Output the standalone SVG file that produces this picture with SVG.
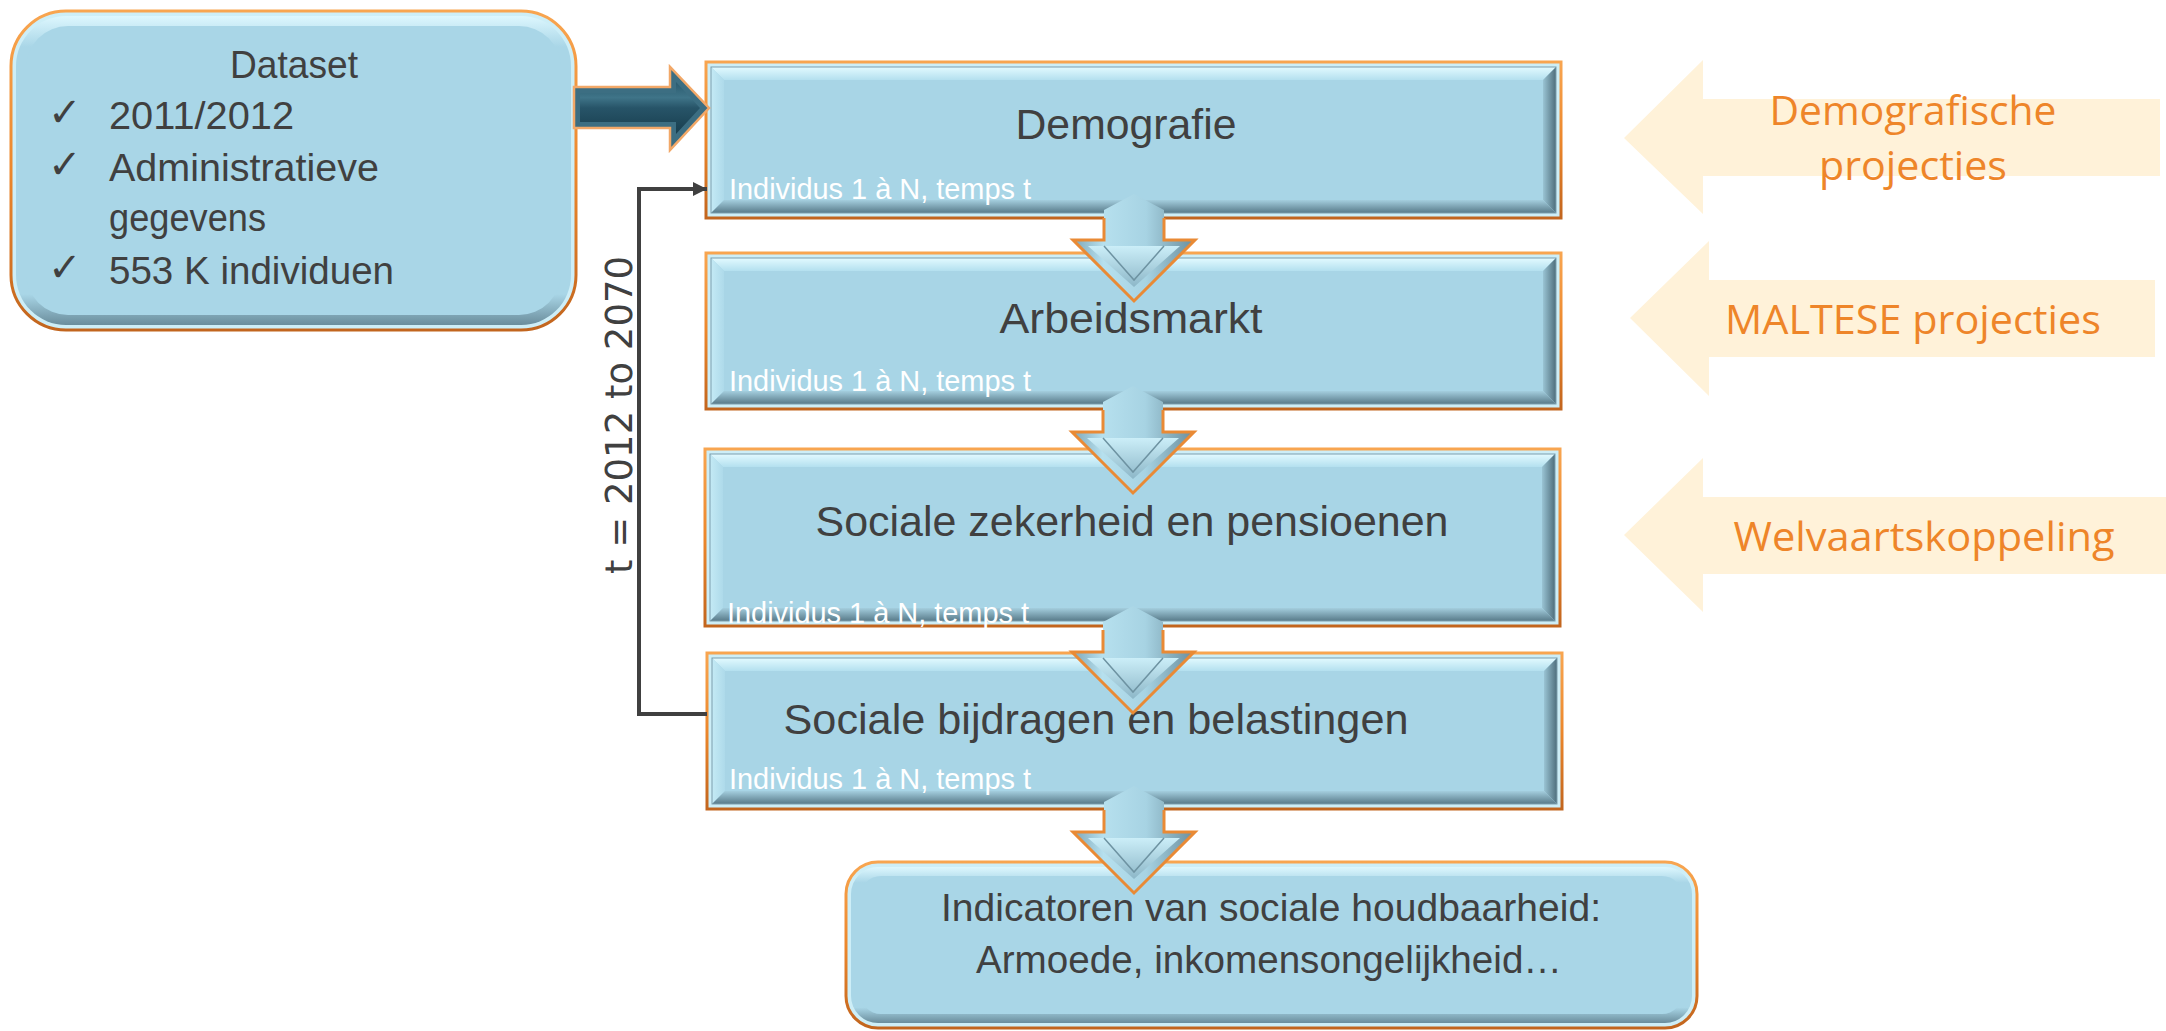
<svg xmlns="http://www.w3.org/2000/svg" width="2166" height="1031" viewBox="0 0 2166 1031">
<defs>
<style>
.t{font-family:"Liberation Sans",Arial,sans-serif;fill:#404040}
.w{font-family:"Liberation Sans",Arial,sans-serif;fill:#FFFFFF;font-size:29px}
.o{font-family:"Open Sans","Liberation Sans",sans-serif;fill:#EE8529;font-size:41px}
.ck{font-family:"DejaVu Sans",sans-serif;fill:#404040;font-size:40px}
.cream{fill:#FFF2D9}
</style>
<linearGradient id="gOr" x1="0" y1="0" x2="0" y2="1"><stop offset="0" stop-color="#F8A550"/><stop offset="0.5" stop-color="#EC872C"/><stop offset="1" stop-color="#C2651E"/></linearGradient>
<linearGradient id="gTop" x1="0" y1="0" x2="0" y2="1"><stop offset="0" stop-color="#E2FAFF"/><stop offset="1" stop-color="#B4E0EF"/></linearGradient>
<linearGradient id="gLeft" x1="0" y1="0" x2="1" y2="0"><stop offset="0" stop-color="#C4EAF5"/><stop offset="1" stop-color="#AEDAEA"/></linearGradient>
<linearGradient id="gRight" x1="0" y1="0" x2="1" y2="0"><stop offset="0" stop-color="#9AC4D4"/><stop offset="1" stop-color="#4E6E7C"/></linearGradient>
<linearGradient id="gBot" x1="0" y1="0" x2="0" y2="1"><stop offset="0" stop-color="#A4CEDE"/><stop offset="1" stop-color="#587A89"/></linearGradient>
<linearGradient id="gRound" x1="0" y1="0" x2="0" y2="1"><stop offset="0" stop-color="#DDF7FE"/><stop offset="0.1" stop-color="#A9D6E7"/><stop offset="0.9" stop-color="#A9D6E7"/><stop offset="1" stop-color="#6A8D9C"/></linearGradient>
<linearGradient id="gShaft" x1="0" y1="0" x2="1" y2="0"><stop offset="0" stop-color="#7EA6B7"/><stop offset="0.25" stop-color="#B6E0EE"/><stop offset="0.6" stop-color="#A7D3E3"/><stop offset="1" stop-color="#6A8E9D"/></linearGradient>
<linearGradient id="gHead" x1="0" y1="0" x2="0" y2="1"><stop offset="0" stop-color="#CBEEF8"/><stop offset="1" stop-color="#8DB7C8"/></linearGradient>
<linearGradient id="gDark" x1="0" y1="0" x2="0" y2="1"><stop offset="0" stop-color="#2A5A6E"/><stop offset="0.3" stop-color="#3F7488"/><stop offset="0.5" stop-color="#275468"/><stop offset="1" stop-color="#183E4E"/></linearGradient>
<marker id="mArr" markerUnits="userSpaceOnUse" markerWidth="16" markerHeight="16" refX="14" refY="7" orient="auto"><path d="M0,0 L14,7 L0,14 z" fill="#404040"/></marker>
<g id="bev156">
<rect x="0" y="0" width="855" height="156" fill="#CDEEF7" stroke="url(#gOr)" stroke-width="3"/>
<rect x="5" y="5" width="845" height="146" fill="#A8D5E6"/>
<polygon points="5,5 850,5 837,18 18,18" fill="url(#gTop)"/>
<polygon points="5,5 18,18 18,138 5,151" fill="url(#gLeft)"/>
<polygon points="850,5 850,151 837,138 837,18" fill="url(#gRight)"/>
<polygon points="5,151 850,151 837,138 18,138" fill="url(#gBot)"/>
<rect x="5" y="5" width="845" height="146" fill="none" stroke="#7C9EAD" stroke-width="1"/>
</g>
<g id="bev177">
<rect x="0" y="0" width="855" height="177" fill="#CDEEF7" stroke="url(#gOr)" stroke-width="3"/>
<rect x="5" y="5" width="845" height="167" fill="#A8D5E6"/>
<polygon points="5,5 850,5 837,18 18,18" fill="url(#gTop)"/>
<polygon points="5,5 18,18 18,159 5,172" fill="url(#gLeft)"/>
<polygon points="850,5 850,172 837,159 837,18" fill="url(#gRight)"/>
<polygon points="5,172 850,172 837,159 18,159" fill="url(#gBot)"/>
<rect x="5" y="5" width="845" height="167" fill="none" stroke="#7C9EAD" stroke-width="1"/>
</g>
<g id="dArrow">
<polygon points="-30,-30 0,-46 30,-30 30,0 61,0 0,61 -61,0 -30,0" fill="url(#gShaft)"/>
<polygon points="-46,6 46,6 0,47" fill="url(#gHead)"/>
<path d="M-30,6 L0,40 L30,6" fill="none" stroke="#6E93A2" stroke-width="1.5"/>
<path d="M-30,-22 V0 H-61 L0,61 L61,0 H30 V-22" fill="none" stroke="#E98A35" stroke-width="3" stroke-linejoin="miter"/>
</g>
</defs>
<rect x="0" y="0" width="2166" height="1031" fill="#FFFFFF"/>

<g id="node-dataset">
<rect x="11" y="11" width="565" height="319" rx="55" fill="#CDEEF7" stroke="url(#gOr)" stroke-width="3"/>
<rect x="16" y="16" width="555" height="309" rx="50" fill="url(#gRound)"/>
<rect x="26" y="26" width="535" height="289" rx="42" fill="#A9D6E7"/>
<text class="t" x="294" y="78" font-size="39" text-anchor="middle" textLength="128" lengthAdjust="spacingAndGlyphs">Dataset</text>
<text class="ck" x="48" y="126">✓</text>
<text class="t" x="109" y="129" font-size="39" textLength="185" lengthAdjust="spacingAndGlyphs">2011/2012</text>
<text class="ck" x="48" y="178">✓</text>
<text class="t" x="109" y="181" font-size="39" textLength="270" lengthAdjust="spacingAndGlyphs">Administratieve</text>
<text class="t" x="109" y="231" font-size="39" textLength="157" lengthAdjust="spacingAndGlyphs">gegevens</text>
<text class="ck" x="48" y="281">✓</text>
<text class="t" x="109" y="284" font-size="39" textLength="285" lengthAdjust="spacingAndGlyphs">553 K individuen</text>
</g>

<g id="node-demografie">
<use href="#bev156" transform="translate(706,62)"/>
<text class="t" x="1126" y="139" font-size="42" text-anchor="middle" textLength="221" lengthAdjust="spacingAndGlyphs">Demografie</text>
<text class="w" x="729" y="199" textLength="302" lengthAdjust="spacingAndGlyphs">Individus 1 à N, temps t</text>
</g>

<g id="node-arbeidsmarkt">
<use href="#bev156" transform="translate(706,253)"/>
<text class="t" x="1131" y="333" font-size="42" text-anchor="middle" textLength="263" lengthAdjust="spacingAndGlyphs">Arbeidsmarkt</text>
<text class="w" x="729" y="391" textLength="302" lengthAdjust="spacingAndGlyphs">Individus 1 à N, temps t</text>
</g>

<g id="node-sociale-zekerheid">
<use href="#bev177" transform="translate(705,449)"/>
<text class="t" x="1132" y="536" font-size="42" text-anchor="middle" textLength="633" lengthAdjust="spacingAndGlyphs">Sociale zekerheid en pensioenen</text>
<text class="w" x="727" y="623" textLength="302" lengthAdjust="spacingAndGlyphs">Individus 1 à N, temps t</text>
</g>

<g id="node-sociale-bijdragen">
<use href="#bev156" transform="translate(707,653)"/>
<text class="t" x="1096" y="734" font-size="42" text-anchor="middle" textLength="625" lengthAdjust="spacingAndGlyphs">Sociale bijdragen en belastingen</text>
<text class="w" x="729" y="789" textLength="302" lengthAdjust="spacingAndGlyphs">Individus 1 à N, temps t</text>
</g>

<g id="node-indicatoren">
<rect x="846" y="862" width="851" height="166" rx="32" fill="#CDEEF7" stroke="url(#gOr)" stroke-width="3"/>
<rect x="851" y="867" width="841" height="156" rx="27" fill="url(#gRound)"/>
<rect x="860" y="876" width="823" height="138" rx="21" fill="#A9D6E7"/>
<text class="t" x="1271" y="921" font-size="39" text-anchor="middle" textLength="660" lengthAdjust="spacingAndGlyphs">Indicatoren van sociale houdbaarheid:</text>
<text class="t" x="1269" y="973" font-size="39" text-anchor="middle" textLength="586" lengthAdjust="spacingAndGlyphs">Armoede, inkomensongelijkheid…</text>
</g>

<g id="node-demografische-projecties">
<polygon class="cream" points="1624,138 1703,60 1703,99 2160,99 2160,176 1703,176 1703,214"/>
<text class="o" x="1913" y="125" text-anchor="middle" textLength="287" lengthAdjust="spacingAndGlyphs">Demografische</text>
<text class="o" x="1913" y="180" text-anchor="middle" textLength="188" lengthAdjust="spacingAndGlyphs">projecties</text>
</g>

<g id="node-maltese-projecties">
<polygon class="cream" points="1630,318 1709,241 1709,280 2155,280 2155,357 1709,357 1709,396"/>
<text class="o" x="1913" y="334" text-anchor="middle" textLength="376" lengthAdjust="spacingAndGlyphs">MALTESE projecties</text>
</g>

<g id="node-welvaartskoppeling">
<polygon class="cream" points="1624,535 1703,458 1703,497 2166,497 2166,574 1703,574 1703,612"/>
<text class="o" x="1924" y="551" text-anchor="middle" textLength="381" lengthAdjust="spacingAndGlyphs">Welvaartskoppeling</text>
</g>

<g id="connectors">
<polygon points="574,87 670,87 670,67 709,108 670,150 670,128 574,128" fill="#3C6E82" stroke="#F2A868" stroke-width="2.5" stroke-linejoin="miter"/>
<polygon points="580,93 676,93 676,82 700,108 676,134 676,122 580,122" fill="url(#gDark)"/>
<polyline points="707,714 639,714 639,189 707,189" fill="none" stroke="#404040" stroke-width="4" marker-end="url(#mArr)"/>
<text class="t" transform="translate(632,415) rotate(-90)" style="font-family:'DejaVu Sans',sans-serif" font-size="37" text-anchor="middle">t = 2012 to 2070</text>
<use href="#dArrow" transform="translate(1134,240)"/>
<use href="#dArrow" transform="translate(1133,432)"/>
<use href="#dArrow" transform="translate(1133,652)"/>
<use href="#dArrow" transform="translate(1134,832)"/>
</g>
</svg>
